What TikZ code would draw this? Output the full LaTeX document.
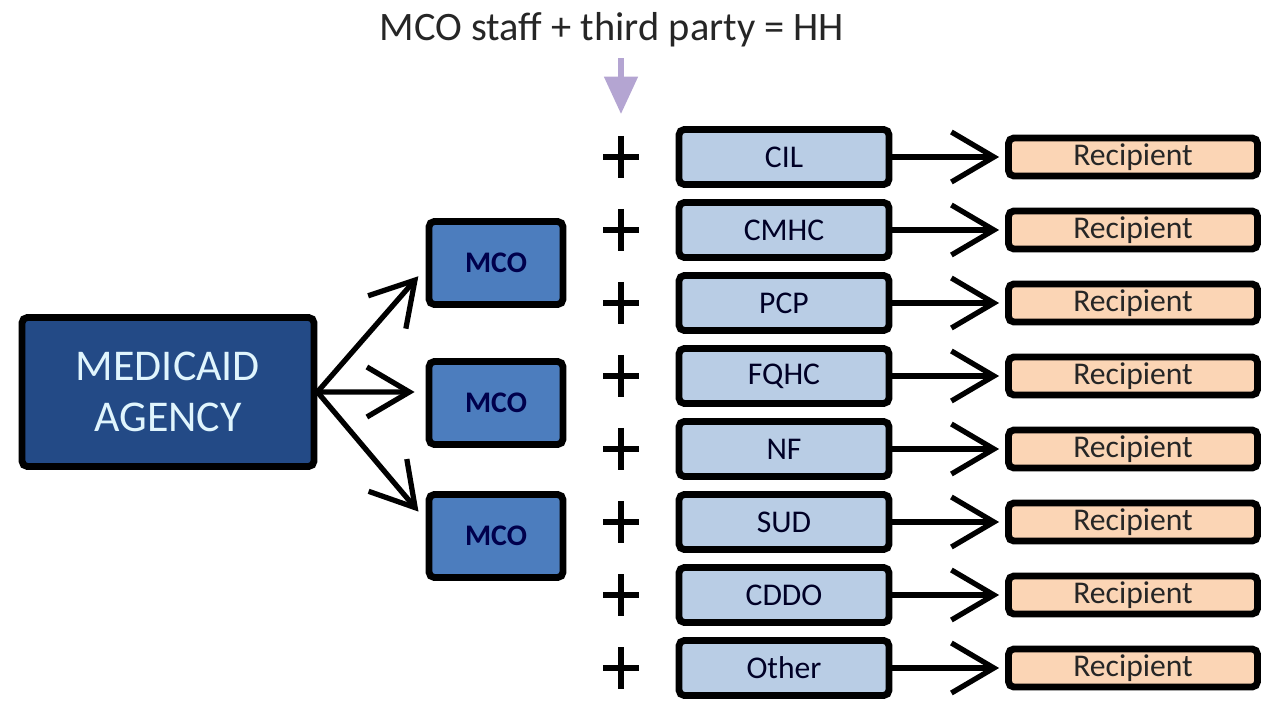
\documentclass[tikz,border=0pt]{standalone}
\usepackage{fontspec}
\setmainfont{Carlito}
\usetikzlibrary{arrows.meta}

\definecolor{agencyblue}{RGB}{35,74,134}
\definecolor{mcoblue}{RGB}{76,125,190}
\definecolor{partnerblue}{RGB}{185,205,229}
\definecolor{recipientpeach}{RGB}{251,213,181}
\definecolor{hhpurple}{RGB}{180,165,210}

\tikzset{
  box/.style={draw=black, line width=3.9pt, rounded corners=3pt, inner sep=0pt},
  agencybox/.style={box, fill=agencyblue, minimum width=5.84cm, minimum height=2.98cm,
    text=white!88!cyan, align=center, font=\fontsize{25}{29}\selectfont},
  mcobox/.style={box, fill=mcoblue, minimum width=2.68cm, minimum height=1.66cm,
    text=black!70!blue, font=\fontsize{17}{19}\selectfont\bfseries},
  partnerbox/.style={box, fill=partnerblue, minimum width=4.2cm, minimum height=1.1cm,
    text=black!85!blue, font=\fontsize{18}{20}\selectfont},
  recipientbox/.style={box, fill=recipientpeach, minimum width=4.98cm, minimum height=0.76cm,
    text=black!85, font=\fontsize{18}{20}\selectfont},
  flow/.style={line width=3pt, -{Straight Barb[length=0.85cm,width=1.0cm]}},
  plussign/.style={line width=3.8pt},
  hharrow/.style={line width=3pt, hhpurple, -{Triangle[length=0.75cm,width=0.66cm]}}
}

\begin{document}
\begin{tikzpicture}[x=0.02cm, y=-0.02cm]
\useasboundingbox (0,0) rectangle (1268,702);

% Titulo y flecha morada
\node[text=black!85, inner sep=0pt, font=\fontsize{23}{26}\selectfont] (title) at (612,30) {MCO staff + third party = HH};
\coordinate (hhtip) at (621,114);
\draw[hharrow, shorten <=6pt] (title.south -| hhtip) -- (hhtip);

% Agencia y MCOs
\node[agencybox] (agency) at (168,392) {MEDICAID\\AGENCY};
\node[mcobox] (mco1) at (496,263) {MCO};
\node[mcobox] (mco2) at (496,403) {MCO};
\node[mcobox] (mco3) at (496,536) {MCO};
\draw[flow, shorten >=0.22cm] (agency.east) -- ([yshift=-0.1cm]mco1.west);
\draw[flow, shorten >=0.22cm] (agency.east) -- ([yshift=0.22cm]mco2.west);
\draw[flow, shorten >=0.22cm] (agency.east) -- ([yshift=0.32cm]mco3.west);

% Filas: + proveedor -> Recipient
\foreach \name [count=\i] in {CIL,CMHC,PCP,FQHC,NF,SUD,CDDO,Other} {
  \pgfmathsetmacro\rowy{157+73*(\i-1)}
  \draw[plussign] (603,\rowy) -- (639,\rowy) (621,{\rowy-21}) -- (621,{\rowy+21});
  \node[partnerbox] (partner\i) at (784,\rowy) {\name};
  \node[recipientbox] (recipient\i) at (1133,\rowy) {Recipient};
  \draw[flow, shorten >=0.12cm] (partner\i) -- (recipient\i);
}
\end{tikzpicture}
\end{document}
